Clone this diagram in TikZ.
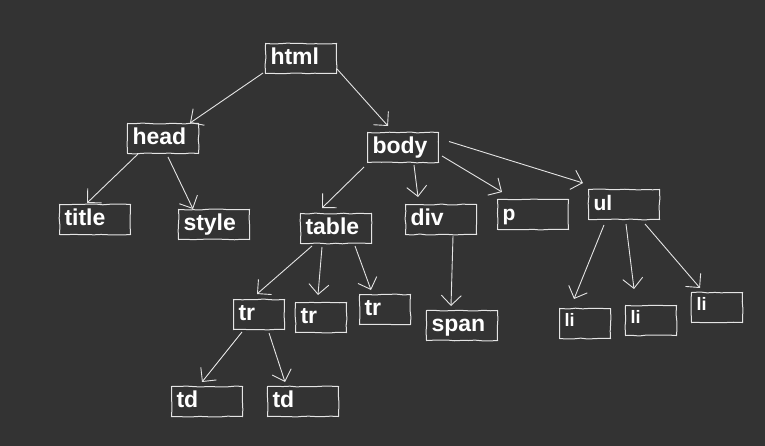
\documentclass[tikz,border=0pt]{standalone}
\usepackage{fontspec}
\setmainfont{Liberation Sans}
\usetikzlibrary{arrows.meta,decorations.pathmorphing}
\definecolor{board}{RGB}{51,51,51}
\definecolor{chalk}{RGB}{228,228,228}
\pgfmathsetseed{7}

\begin{document}
\begin{tikzpicture}[x=1pt, y=-1pt,
  tag/.style={draw=chalk, line width=1pt, text=white,
    font=\fontsize{23}{25}\selectfont\bfseries,
    anchor=north west, inner xsep=5pt, inner ysep=0pt,
    text height=21pt, text depth=9pt, align=left,
    decorate, decoration={random steps, segment length=7pt, amplitude=0.5pt}},
  wide/.style={tag, text width=61pt},
  narrow/.style={tag, text width=41pt},
  mid/.style={font=\fontsize{21}{23}\selectfont\bfseries},
  tiny/.style={font=\fontsize{18}{20}\selectfont\bfseries, text height=18pt, text depth=12pt},
  link/.style={draw=chalk, line width=0.9pt, -{Straight Barb[length=10pt,width=20pt]}}]
  \fill[board] (0,0) rectangle (765,446);

  % tree of tags
  \node[wide] (html) at (265,43) {html};
  \node[wide] (head) at (127,123) {head};
  \node[wide] (title) at (59,204) {title};
  \node[wide] (style) at (178,209) {style};
  \node[wide] (body) at (367,132) {body};
  \node[wide] (table) at (300,213) {table};
  \node[wide] (div) at (405,204) {div};
  \node[wide, mid] (p) at (497,199) {p};
  \node[wide, mid] (ul) at (588,189) {ul};
  \node[wide] (span) at (426,310) {span};
  \node[narrow] (tr1) at (233,299) {tr};
  \node[narrow] (tr2) at (295,302) {tr};
  \node[narrow] (tr3) at (359,294) {tr};
  \node[wide] (td1) at (171,386) {td};
  \node[wide] (td2) at (267,386) {td};
  \node[narrow, tiny] (li1) at (559,308) {li};
  \node[narrow, tiny] (li2) at (625,305) {li};
  \node[narrow, tiny] (li3) at (691,292) {li};

  % arrows
  \draw[link] ([xshift=-2pt,yshift=1pt]html.south west) -- ([xshift=-9pt]head.north east);
  \draw[link] ([yshift=5pt]html.south east) -- ([xshift=21pt,yshift=6pt]body.north west);
  \draw[link] ([xshift=11pt]head.south west) -- ([xshift=28pt,yshift=1pt]title.north west);
  \draw[link] ([xshift=5pt,yshift=-3pt]head.south) -- ([xshift=15pt]style.north west);
  \draw[link] ([xshift=-3pt,yshift=-4pt]body.south west) -- ([xshift=22pt,yshift=5pt]table.north west);
  \draw[link] ([xshift=11pt,yshift=-2pt]body.south) -- ([xshift=13pt,yshift=7pt]div.north west);
  \draw[link] ([xshift=3pt,yshift=7pt]body.south east) -- ([xshift=5pt,yshift=7pt]p.north west);
  \draw[link] ([xshift=10pt,yshift=6pt]body.east) -- ([xshift=-5pt,yshift=6pt]ul.north west);
  \draw[link] ([xshift=12pt,yshift=-2pt]table.south west) -- ([xshift=24pt,yshift=5pt]tr1.north west);
  \draw[link] ([xshift=22pt,yshift=-3pt]table.south west) -- ([xshift=23pt,yshift=7pt]tr2.north west);
  \draw[link] ([xshift=-17pt,yshift=-2pt]table.south east) -- ([xshift=12pt,yshift=4pt]tr3.north west);
  \draw[link] ([xshift=9pt,yshift=-2pt]tr1.south west) -- ([xshift=31pt,yshift=4pt]td1.north west);
  \draw[link] ([xshift=36pt,yshift=-3pt]tr1.south west) -- ([xshift=18pt,yshift=4pt]td2.north west);
  \draw[link] ([xshift=48pt,yshift=-1pt]div.south west) -- ([xshift=25pt,yshift=4pt]span.north west);
  \draw[link] ([xshift=16pt,yshift=-5pt]ul.south west) -- ([xshift=15pt,yshift=9pt]li1.north west);
  \draw[link] ([xshift=38pt,yshift=-4pt]ul.south west) -- ([xshift=9pt,yshift=16pt]li2.north west);
  \draw[link] ([xshift=57pt,yshift=-4pt]ul.south west) -- ([xshift=9pt,yshift=4pt]li3.north west);
\end{tikzpicture}
\end{document}
